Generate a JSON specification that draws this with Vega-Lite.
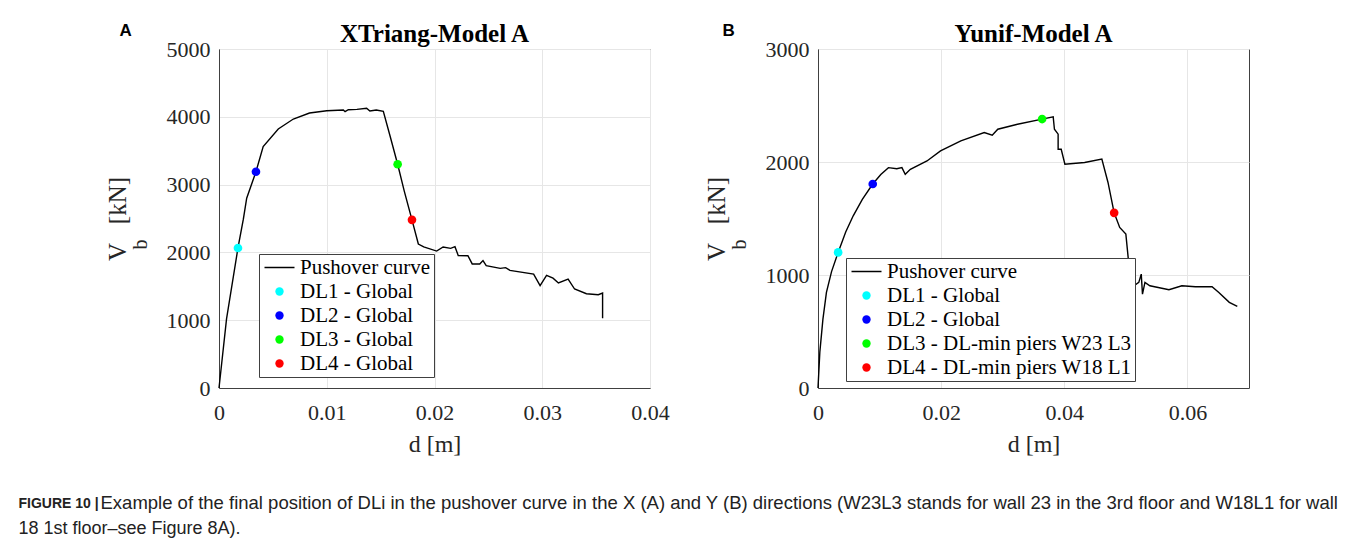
{
  "$schema": "https://vega.github.io/schema/vega-lite/v6.json",
  "background": "white",
  "padding": {"left": 18, "top": 21, "right": 5, "bottom": 5},
  "datasets": {
    "curveA": [
      {"i": 0, "d": 0, "V": 0}, {"i": 1, "d": 0.0007, "V": 1020}, {"i": 2, "d": 0.00176, "V": 2065},
      {"i": 3, "d": 0.00226, "V": 2490}, {"i": 4, "d": 0.00257, "V": 2800}, {"i": 5, "d": 0.00343, "V": 3190},
      {"i": 6, "d": 0.0041, "V": 3560}, {"i": 7, "d": 0.0055, "V": 3820}, {"i": 8, "d": 0.0069, "V": 3967},
      {"i": 9, "d": 0.0084, "V": 4056}, {"i": 10, "d": 0.01, "V": 4090}, {"i": 11, "d": 0.01154, "V": 4100},
      {"i": 12, "d": 0.0117, "V": 4075}, {"i": 13, "d": 0.012, "V": 4105}, {"i": 14, "d": 0.0128, "V": 4110},
      {"i": 15, "d": 0.0137, "V": 4125}, {"i": 16, "d": 0.014, "V": 4085}, {"i": 17, "d": 0.0146, "V": 4100},
      {"i": 18, "d": 0.01525, "V": 4080}, {"i": 19, "d": 0.01587, "V": 3720}, {"i": 20, "d": 0.01658, "V": 3300},
      {"i": 21, "d": 0.0172, "V": 2900}, {"i": 22, "d": 0.01791, "V": 2480}, {"i": 23, "d": 0.0185, "V": 2124},
      {"i": 24, "d": 0.019, "V": 2080}, {"i": 25, "d": 0.0202, "V": 2020}, {"i": 26, "d": 0.0208, "V": 2080},
      {"i": 27, "d": 0.0215, "V": 2060}, {"i": 28, "d": 0.0219, "V": 2085}, {"i": 29, "d": 0.0222, "V": 1955},
      {"i": 30, "d": 0.0231, "V": 1950}, {"i": 31, "d": 0.0235, "V": 1830}, {"i": 32, "d": 0.0242, "V": 1830},
      {"i": 33, "d": 0.0245, "V": 1880}, {"i": 34, "d": 0.0248, "V": 1805}, {"i": 35, "d": 0.0261, "V": 1765},
      {"i": 36, "d": 0.0266, "V": 1775}, {"i": 37, "d": 0.027, "V": 1735}, {"i": 38, "d": 0.0292, "V": 1680},
      {"i": 39, "d": 0.0298, "V": 1510}, {"i": 40, "d": 0.0304, "V": 1660}, {"i": 41, "d": 0.031, "V": 1620},
      {"i": 42, "d": 0.0315, "V": 1550}, {"i": 43, "d": 0.0324, "V": 1605}, {"i": 44, "d": 0.033, "V": 1460},
      {"i": 45, "d": 0.0341, "V": 1390}, {"i": 46, "d": 0.0352, "V": 1375}, {"i": 47, "d": 0.0356, "V": 1400},
      {"i": 48, "d": 0.0356, "V": 1030}
    ],
    "pointsA": [
      {"d": 0.00176, "V": 2065, "label": "DL1 - Global"},
      {"d": 0.00343, "V": 3190, "label": "DL2 - Global"},
      {"d": 0.01658, "V": 3300, "label": "DL3 - Global"},
      {"d": 0.01791, "V": 2480, "label": "DL4 - Global"}
    ],
    "curveB": [
      {"i": 0, "d": 0, "V": 0}, {"i": 1, "d": 0.0003, "V": 320}, {"i": 2, "d": 0.0008, "V": 610},
      {"i": 3, "d": 0.00137, "V": 846}, {"i": 4, "d": 0.0022, "V": 1030}, {"i": 5, "d": 0.00327, "V": 1200},
      {"i": 6, "d": 0.0045, "V": 1380}, {"i": 7, "d": 0.00572, "V": 1524}, {"i": 8, "d": 0.0072, "V": 1670},
      {"i": 9, "d": 0.00889, "V": 1805}, {"i": 10, "d": 0.0102, "V": 1890}, {"i": 11, "d": 0.01144, "V": 1950},
      {"i": 12, "d": 0.0128, "V": 1940}, {"i": 13, "d": 0.01363, "V": 1950}, {"i": 14, "d": 0.01417, "V": 1891},
      {"i": 15, "d": 0.015, "V": 1935}, {"i": 16, "d": 0.0177, "V": 2009}, {"i": 17, "d": 0.0199, "V": 2098},
      {"i": 18, "d": 0.0232, "V": 2187}, {"i": 19, "d": 0.027, "V": 2261}, {"i": 20, "d": 0.0283, "V": 2237},
      {"i": 21, "d": 0.0292, "V": 2290}, {"i": 22, "d": 0.0324, "V": 2334}, {"i": 23, "d": 0.0364, "V": 2380},
      {"i": 24, "d": 0.0382, "V": 2399}, {"i": 25, "d": 0.0384, "V": 2290}, {"i": 26, "d": 0.039, "V": 2246},
      {"i": 27, "d": 0.039, "V": 2113}, {"i": 28, "d": 0.0395, "V": 2113}, {"i": 29, "d": 0.0401, "V": 1981},
      {"i": 30, "d": 0.0433, "V": 1996}, {"i": 31, "d": 0.0461, "V": 2025}, {"i": 32, "d": 0.0471, "V": 1819},
      {"i": 33, "d": 0.0481, "V": 1550}, {"i": 34, "d": 0.049, "V": 1421}, {"i": 35, "d": 0.05, "V": 1362},
      {"i": 36, "d": 0.0504, "V": 1141}, {"i": 37, "d": 0.0512, "V": 900}, {"i": 38, "d": 0.0521, "V": 935},
      {"i": 39, "d": 0.0525, "V": 1008}, {"i": 40, "d": 0.0527, "V": 831}, {"i": 41, "d": 0.0531, "V": 935},
      {"i": 42, "d": 0.0539, "V": 905}, {"i": 43, "d": 0.057, "V": 870}, {"i": 44, "d": 0.0591, "V": 905},
      {"i": 45, "d": 0.0613, "V": 896}, {"i": 46, "d": 0.064, "V": 896}, {"i": 47, "d": 0.0651, "V": 846},
      {"i": 48, "d": 0.0668, "V": 758}, {"i": 49, "d": 0.0681, "V": 723}
    ],
    "pointsB": [
      {"d": 0.00327, "V": 1200, "label": "DL1 - Global"},
      {"d": 0.00889, "V": 1805, "label": "DL2 - Global"},
      {"d": 0.0364, "V": 2380, "label": "DL3 - DL-min piers W23 L3"},
      {"d": 0.0481, "V": 1550, "label": "DL4 - DL-min piers W18 L1"}
    ]
  },
  "title": {
    "text": "FIGURE 10 |",
    "subtitle": "18 1st floor–see Figure 8A).",
    "orient": "bottom",
    "anchor": "start",
    "font": "Liberation Sans",
    "fontSize": 14,
    "fontWeight": "bold",
    "color": "#222222",
    "subtitleFont": "Liberation Sans",
    "subtitleFontSize": 18,
    "subtitleColor": "#222222",
    "subtitlePadding": 9,
    "dx": -82,
    "dy": -15,
    "offset": 0
  },
  "vconcat": [
    {
      "title": {
        "text": "Example of the final position of DLi in the pushover curve in the X (A) and Y (B) directions (W23L3 stands for wall 23 in the 3rd floor and W18L1 for wall",
        "orient": "bottom",
        "anchor": "start",
        "font": "Liberation Sans",
        "fontSize": 18.5,
        "fontWeight": "normal",
        "color": "#222222",
        "dx": -4,
        "offset": 37
      },
      "spacing": 33,
      "resolve": {"scale": {"color": "independent"}, "legend": {"color": "independent"}},
      "hconcat": [
        {
          "title": {"text": "A", "anchor": "start", "font": "Liberation Sans", "fontSize": 17, "fontWeight": "bold", "color": "black", "dx": 15, "dy": 22},
          "hconcat": [
            {
              "width": 431,
              "height": 339,
              "title": {"text": "XTriang-Model A", "font": "Liberation Serif", "fontSize": 25, "fontWeight": "bold", "color": "black", "offset": -9},
              "resolve": {"axis": {"y": "independent"}},
              "layer": [
                {
                  "data": {"name": "curveA"},
                  "mark": {"type": "line", "color": "black", "strokeWidth": 1.4},
                  "encoding": {
                    "x": {"field": "d", "type": "quantitative", "scale": {"domain": [0, 0.04], "nice": false},
                          "axis": {"values": [0, 0.01, 0.02, 0.03, 0.04], "format": "~g", "title": "d [m]"}},
                    "y": {"field": "V", "type": "quantitative", "scale": {"domain": [0, 5000], "nice": false},
                          "axis": {"values": [0, 1000, 2000, 3000, 4000, 5000], "format": "d", "title": "V\u2002\u00a0[kN]"}},
                    "order": {"field": "i", "type": "quantitative"}
                  }
                },
                {
                  "data": {"name": "pointsA"},
                  "mark": {"type": "point", "filled": true, "opacity": 1, "size": 75},
                  "encoding": {
                    "x": {"field": "d", "type": "quantitative"},
                    "y": {"field": "V", "type": "quantitative",
                          "axis": {"orient": "left", "title": "b", "titleFontSize": 20, "labels": false, "ticks": false, "domain": false, "grid": false, "titleX": -69, "titleY": 195}},
                    "color": {"field": "label", "type": "nominal",
                      "scale": {"domain": ["Pushover curve", "DL1 - Global", "DL2 - Global", "DL3 - Global", "DL4 - Global"], "range": ["#000000", "#00ffff", "#0000ff", "#00ff00", "#ff0000"]},
                      "legend": {"title": null, "orient": "none", "legendX": 40, "legendY": 205,
                        "encode": {"symbols": {"update": {
                          "shape": {"signal": "datum.value === 'Pushover curve' ? 'M-1.5,0H1.5' : 'circle'"},
                          "size": {"signal": "datum.value === 'Pushover curve' ? 400 : 70"},
                          "stroke": {"value": "#000000"},
                          "strokeWidth": {"signal": "datum.value === 'Pushover curve' ? 1.5 : 0"}
                        }}}}}
                  }
                }
              ]
            }
          ]
        },
        {
          "title": {"text": "B", "anchor": "start", "font": "Liberation Sans", "fontSize": 17, "fontWeight": "bold", "color": "black", "dx": 19, "dy": 22},
          "hconcat": [
            {
              "width": 431,
              "height": 339,
              "title": {"text": "Yunif-Model A", "font": "Liberation Serif", "fontSize": 25, "fontWeight": "bold", "color": "black", "offset": -9},
              "resolve": {"axis": {"y": "independent"}},
              "layer": [
                {
                  "data": {"name": "curveB"},
                  "mark": {"type": "line", "color": "black", "strokeWidth": 1.4},
                  "encoding": {
                    "x": {"field": "d", "type": "quantitative", "scale": {"domain": [0, 0.07], "nice": false},
                          "axis": {"values": [0, 0.02, 0.04, 0.06], "format": "~g", "title": "d [m]"}},
                    "y": {"field": "V", "type": "quantitative", "scale": {"domain": [0, 3000], "nice": false},
                          "axis": {"values": [0, 1000, 2000, 3000], "format": "d", "title": "V\u2002\u00a0[kN]"}},
                    "order": {"field": "i", "type": "quantitative"}
                  }
                },
                {
                  "data": {"name": "pointsB"},
                  "mark": {"type": "point", "filled": true, "opacity": 1, "size": 75},
                  "encoding": {
                    "x": {"field": "d", "type": "quantitative"},
                    "y": {"field": "V", "type": "quantitative",
                          "axis": {"orient": "left", "title": "b", "titleFontSize": 20, "labels": false, "ticks": false, "domain": false, "grid": false, "titleX": -69, "titleY": 195}},
                    "color": {"field": "label", "type": "nominal",
                      "scale": {"domain": ["Pushover curve", "DL1 - Global", "DL2 - Global", "DL3 - DL-min piers W23 L3", "DL4 - DL-min piers W18 L1"], "range": ["#000000", "#00ffff", "#0000ff", "#00ff00", "#ff0000"]},
                      "legend": {"title": null, "orient": "none", "legendX": 28, "legendY": 209,
                        "encode": {"symbols": {"update": {
                          "shape": {"signal": "datum.value === 'Pushover curve' ? 'M-1.5,0H1.5' : 'circle'"},
                          "size": {"signal": "datum.value === 'Pushover curve' ? 400 : 70"},
                          "stroke": {"value": "#000000"},
                          "strokeWidth": {"signal": "datum.value === 'Pushover curve' ? 1.5 : 0"}
                        }}}}}
                  }
                }
              ]
            }
          ]
        }
      ]
    }
  ],
  "config": {
    "view": {"stroke": "#404040", "strokeWidth": 1},
    "axis": {
      "labelFont": "Liberation Serif", "labelFontSize": 22, "labelColor": "#262626",
      "labelFlush": false, "labelOverlap": false, "labelBound": false,
      "titleFont": "Liberation Serif", "titleFontSize": 25, "titleFontWeight": "normal", "titleColor": "#262626",
      "gridColor": "#e6e6e6", "domainColor": "#404040", "ticks": false
    },
    "axisX": {"labelPadding": 14, "titlePadding": 9, "titleFontSize": 24},
    "axisY": {"labelPadding": 9, "titlePadding": 36},
    "legend": {
      "labelFont": "Liberation Serif", "labelFontSize": 21, "labelColor": "#000000", "labelLimit": 400,
      "fillColor": "white", "strokeColor": "#404040", "padding": 3, "rowPadding": 2,
      "symbolSize": 400, "labelOffset": 10, "symbolOffset": 7, "symbolOpacity": 1, "zindex": 5,
      "symbolType": "circle"
    }
  }
}
